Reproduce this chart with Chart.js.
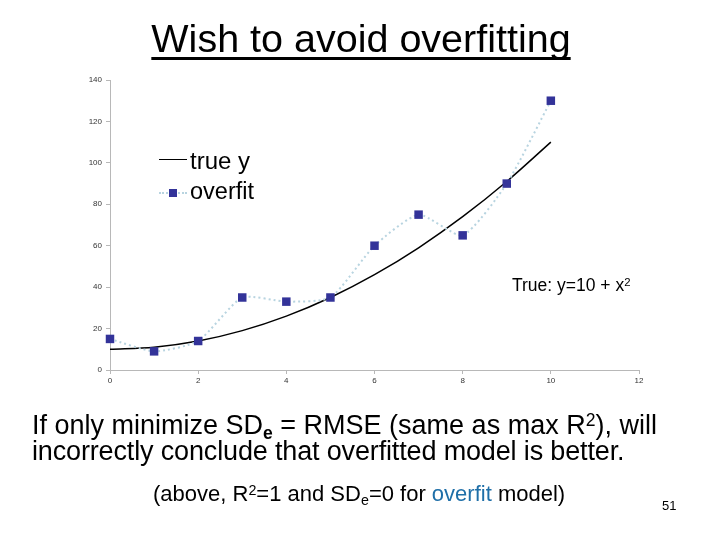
<!DOCTYPE html>
<html><head><meta charset="utf-8">
<script src="https://cdn.jsdelivr.net/npm/chart.js@4"></script>
<style>
html,body{margin:0;padding:0;background:#fff;}
#wrap{position:relative;width:720px;height:540px;overflow:hidden;font-family:"Liberation Sans",Arial,sans-serif;color:#000;}
#c{position:absolute;left:0;top:0;}
.t{position:absolute;white-space:nowrap;line-height:1;}
#title{left:0;width:722px;text-align:center;top:19px;font-size:39.5px;}
#title span{text-decoration:underline;text-decoration-thickness:3px;text-underline-offset:5px;text-decoration-skip-ink:none;}
sup{font-size:65%;vertical-align:0;position:relative;top:-0.45em;}
sub{font-size:65%;vertical-align:0;position:relative;top:0.3em;}
</style></head>
<body><div id="wrap">
<canvas id="c" width="720" height="540"></canvas>
<div class="t" id="title"><span>Wish to avoid overfitting</span></div>
<div class="t" style="left:159px;top:159px;width:28px;height:0;border-top:1.5px solid #000;"></div>
<div class="t" style="left:190px;top:149px;font-size:24px;">true y</div>
<div class="t" style="left:159px;top:192px;width:28px;height:0;border-top:2px dotted #b8d4e0;"></div>
<div class="t" style="left:169px;top:189px;width:8px;height:8px;background:#333399;"></div>
<div class="t" style="left:190px;top:180px;font-size:23.5px;">overfit</div>
<div class="t" style="left:512px;top:277px;font-size:17.5px;">True: y=10 + x<sup>2</sup></div>
<div class="t" style="left:32px;top:412px;font-size:27px;">If only minimize SD<sub style="font-weight:bold">e</sub> = RMSE (same as max R<sup>2</sup>), will</div>
<div class="t" style="left:32px;top:438px;font-size:27px;letter-spacing:-0.15px;">incorrectly conclude that overfitted model is better.</div>
<div class="t" style="left:153px;top:483px;font-size:22px;">(above, R<sup>2</sup>=1 and SD<sub>e</sub>=0 for <span style="color:#1f6fa8">overfit</span> model)</div>
<div class="t" style="left:662px;top:499px;font-size:13px;">51</div>
</div>
<script>
const xValues = [0,1,2,3,4,5,6,7,8,9,10];
const trueY = [10,11,14,19,26,35,46,59,74,91,110];
const overfitY = [15,9,14,35,33,35,60,75,65,90,130];
const xTicks = [0,2,4,6,8,10,12];
const yTicks = [0,20,40,60,80,100,120,140];

const toPts = (ys) => xValues.map((x,i)=>({x:x,y:ys[i]}));
const axisColor = '#b8b8b8';
new Chart(document.getElementById('c'), {
  type:'scatter',
  data:{datasets:[
    {label:'true y', data:toPts(trueY), showLine:true, borderColor:'#000', borderWidth:1.5, pointRadius:0, tension:0.4, cubicInterpolationMode:'monotone', order:2, clip:false},
    {label:'overfit', data:toPts(overfitY), showLine:true, borderColor:'#b8d4e0', borderWidth:2, borderDash:[2,3], tension:0.2,
     pointStyle:'rect', pointRadius:6, pointBackgroundColor:'#333399', pointBorderColor:'#333399', pointBorderWidth:0, order:1, clip:false}
  ]},
  options:{
    responsive:false, animation:false, events:[],
    layout:{padding:{left:80,right:81,top:80,bottom:150}},
    plugins:{legend:{display:false},tooltip:{enabled:false}},
    scales:{
      x:{type:'linear',min:0,max:12,
        afterBuildTicks:(s)=>{s.ticks=xTicks.map(v=>({value:v}));},
        afterFit:(s)=>{s.height=20;},
        grid:{drawOnChartArea:false,drawTicks:true,tickLength:4,color:axisColor},
        border:{color:axisColor,width:1},
        ticks:{font:{size:8,family:'Liberation Sans'},color:'#333',padding:2,maxRotation:0}},
      y:{type:'linear',min:0,max:140,
        afterBuildTicks:(s)=>{s.ticks=yTicks.map(v=>({value:v}));},
        afterFit:(s)=>{s.width=30;},
        grid:{drawOnChartArea:false,drawTicks:true,tickLength:4,color:axisColor},
        border:{color:axisColor,width:1},
        ticks:{font:{size:8,family:'Liberation Sans'},color:'#333',padding:4}}
    }
  }
});
</script>
</body></html>
